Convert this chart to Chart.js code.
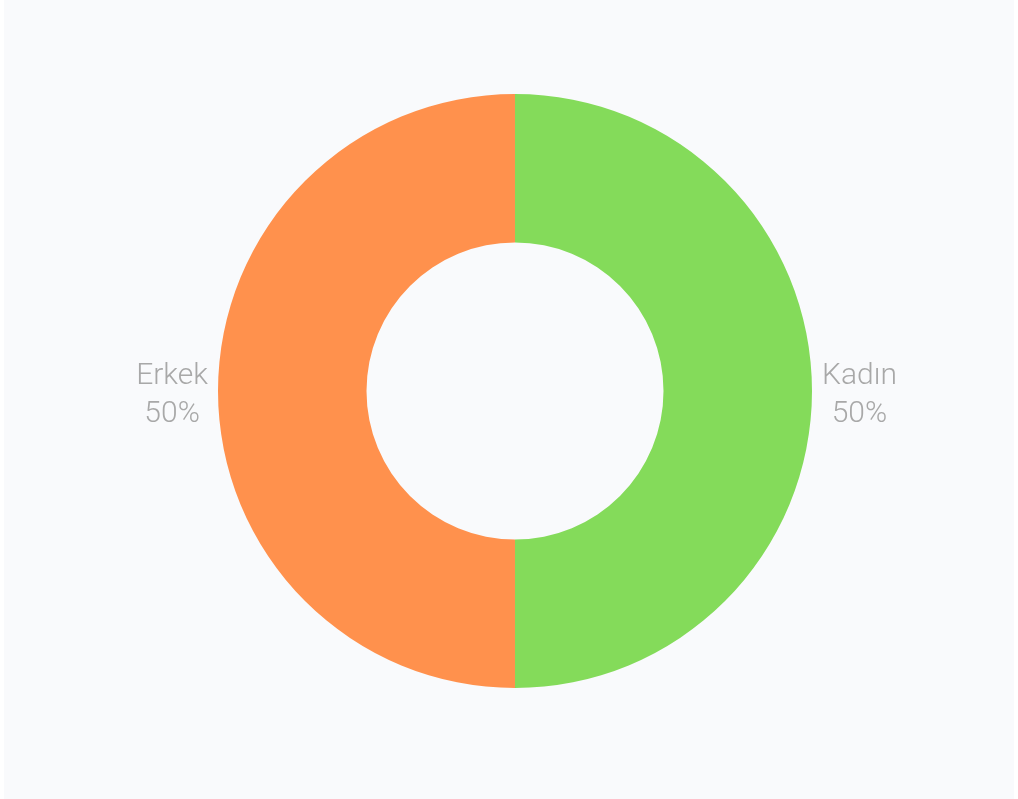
<!DOCTYPE html>
<html>
<head>
<meta charset="utf-8">
<script src="https://cdn.jsdelivr.net/npm/chart.js@4.4.1/dist/chart.umd.min.js"></script>
<style>
  html, body { margin: 0; padding: 0; background: #ffffff; }
  .wrap { position: absolute; left: 4px; top: 0; width: 1010px; height: 799px; background: #f9fafc; }
  canvas { display: block; }
</style>
</head>
<body>
<div class="wrap"><canvas id="gender"></canvas></div>
<script>
// gender split
const labels = ["Kadın", "Erkek"];
const values = [50, 50];
const colors = ["#84db5a", "#ff914d"];

const sideLabels = {
  id: "sideLabels",
  afterDatasetsDraw(chart) {
    const { ctx } = chart;
    const meta = chart.getDatasetMeta(0);
    const total = values.reduce((a, b) => a + b, 0);
    ctx.save();
    ctx.font = "300 30px Roboto, sans-serif";
    ctx.fillStyle = "#a8a8a8";
    ctx.textAlign = "center";
    ctx.textBaseline = "alphabetic";
    meta.data.forEach((arc, i) => {
      const mid = (arc.startAngle + arc.endAngle) / 2;
      const pct = Math.round(values[i] / total * 100) + "%";
      const w = Math.max(ctx.measureText(labels[i]).width, ctx.measureText(pct).width);
      const r = arc.outerRadius + 10 + w / 2;
      const x = arc.x + Math.cos(mid) * r;
      const y = arc.y + Math.sin(mid) * r;
      ctx.fillText(labels[i], x, y - 7);
      ctx.fillText(pct, x, y + 31);
    });
    ctx.restore();
  }
};

new Chart(document.getElementById("gender"), {
  type: "doughnut",
  data: {
    labels: labels,
    datasets: [{
      data: values,
      backgroundColor: colors,
      borderWidth: 0,
      hoverOffset: 0,
    }],
  },
  options: {
    responsive: true, maintainAspectRatio: false,
    animation: false,
    cutout: "50%",
    layout: { padding: { top: 94, bottom: 111, left: 12, right: 0 } },
    plugins: { legend: { display: false }, tooltip: { enabled: false } },
  },
  plugins: [sideLabels],
});
</script>
</body>
</html>
